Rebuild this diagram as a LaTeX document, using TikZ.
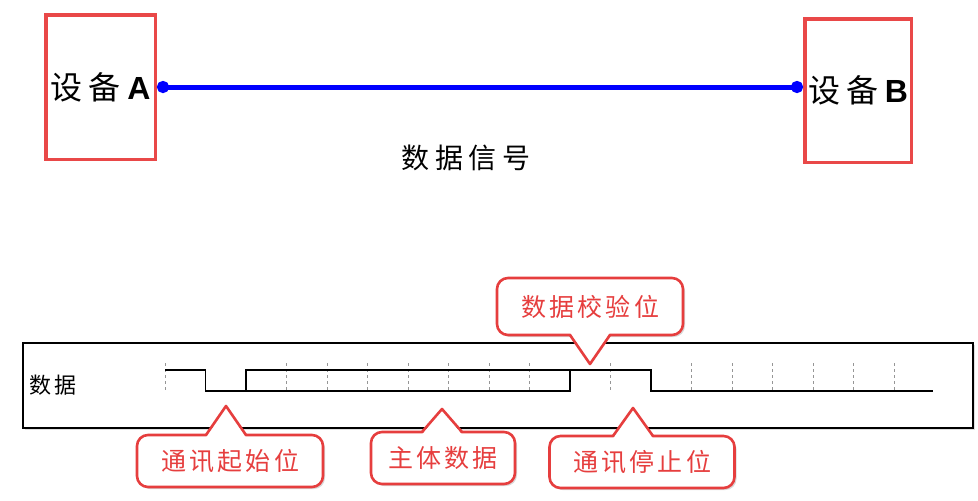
\documentclass[tikz,border=0pt]{standalone}
\usepackage{fontspec}
\setmainfont{Liberation Sans}
\newfontfamily\cjk[LetterSpace=12]{Noto Sans CJK SC}
\newfontfamily\cjkwide[LetterSpace=20]{Noto Sans CJK SC}
\newfontfamily\cjktip[LetterSpace=13]{Noto Sans CJK SC}
\usetikzlibrary{positioning, shadows, arrows.meta}
\definecolor{devred}{RGB}{233,72,72}
\definecolor{tipred}{RGB}{230,62,62}
\definecolor{linkblue}{RGB}{0,0,255}
\definecolor{tickgray}{RGB}{150,150,150}
\tikzset{
    device/.style={
        rectangle, draw=devred, line width=3.5pt, inner sep=0pt,
        font=\fontsize{32}{34}\selectfont
    },
    link/.style={
        linkblue, line width=5pt, {Circle[length=12pt]}-{Circle[length=12pt]}
    },
    sigframe/.style={
        rectangle, draw=black, line width=1.4pt, fill=white, inner sep=0pt,
        minimum width=950pt, minimum height=85pt,
        drop shadow={opacity=0.25, shadow xshift=1.5pt, shadow yshift=-1.5pt}
    },
    wave/.style={
        black, line width=1.4pt, line join=miter
    },
    bittick/.style={
        tickgray, line width=0.8pt, dash pattern=on 3pt off 3pt
    },
    tipbox/.style={
        rectangle, rounded corners=11pt, draw=tipred, line width=2.6pt,
        fill=white, inner sep=0pt, outer sep=0pt, text=tipred,
        minimum height=52pt, font=\fontsize{25}{27}\selectfont\cjktip,
        drop shadow={opacity=0.3, shadow xshift=2pt, shadow yshift=-2pt}
    },
    tipedge/.style={
        tipred, line width=2.6pt, line join=round
    }
}
% pointer of a callout: node, side, tip, overlap
\newcommand{\tippointer}[4]{%
    \fill[white] ([xshift=-20pt,yshift=#4]#3 |- #1.#2) -- (#3) -- ([xshift=20pt,yshift=#4]#3 |- #1.#2) -- cycle;
    \draw[tipedge] ([xshift=-20pt]#3 |- #1.#2) -- (#3) -- ([xshift=20pt]#3 |- #1.#2);
}
\begin{document}
\begin{tikzpicture}[x=1pt, y=-1pt]
        \useasboundingbox (0,0) rectangle (978,501);

        % Devices and signal line

        \node[device, minimum width=109.5pt, minimum height=144.5pt] (devA) at (100.5,87)  {\raisebox{-5pt}{{\cjkwide 设备}\textbf{A}}};
        \node[device, minimum width=106.5pt, minimum height=143.5pt] (devB) at (858,90.5)  {\raisebox{-2pt}{{\cjkwide 设备}\textbf{B}}};
        \node[font=\fontsize{28}{30}\selectfont\cjkwide] (signallabel) at (466,158) {数据信号};

        \path (devA.east) edge[link] (devA.east -| devB.west);

        % Frame and waveform

        \node[sigframe] (frame) at (498,385.5) {};
        \node[font=\fontsize{22}{24}\selectfont\cjk] (datalabel) at (53,385) {数据};

        \foreach \k in {0,3,4,5,6,7,8,9,11,13,14,15,16,17,18}
            \draw[bittick] ({165+\k*40.5},363) -- ({165+\k*40.5},391);

        \draw[wave] (165,370) -- (205.5,370) -- (205.5,391) -- (246,391) -- (246,370)
                -- (651,370) -- (651,391) -- (933,391);
        \draw[wave] (246,391) -- (570,391) -- (570,370);

        % Callouts

        \coordinate (starttip)  at (226,406);
        \coordinate (bodytip)   at (442,409);
        \coordinate (stoptip)   at (633,408);
        \coordinate (paritytip) at (590,364);

        \node[tipbox, minimum width=186pt] (startbit)  at (230,461)   {通讯起始位};
        \node[tipbox, minimum width=144pt] (bodybits)  at (443,458)   {主体数据};
        \node[tipbox, minimum width=185pt] (stopbit)   at (642,462)   {通讯停止位};
        \node[tipbox, minimum width=186pt, minimum height=57pt] (paritybit) at (590,306.5) {数据校验位};

        \tippointer{startbit}{north}{starttip}{-2.5pt}
        \tippointer{bodybits}{north}{bodytip}{-2.5pt}
        \tippointer{stopbit}{north}{stoptip}{-2.5pt}
        \tippointer{paritybit}{south}{paritytip}{2.5pt}
    \end{tikzpicture}
\end{document}
